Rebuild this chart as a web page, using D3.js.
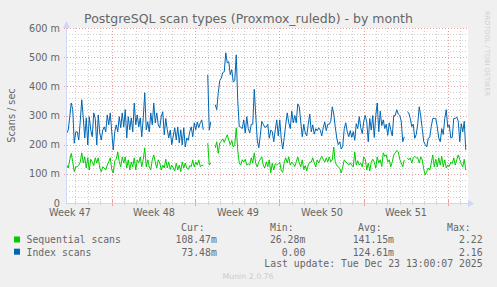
<!DOCTYPE html>
<html>
<head>
<meta charset="utf-8">
<script src="https://cdn.jsdelivr.net/npm/d3@7"></script>
<style>
    body { margin: 0; background: #f0f0f0; }
    svg { display: block; font-family: "DejaVu Sans", sans-serif; }
    .mono { font-family: "DejaVu Sans Mono", monospace; white-space: pre; }
</style>
</head>
<body>
<svg id="chart" width="497" height="287"></svg>
<script>
// munin "by month" view, one sample every 3 hours (values in milli-scans/sec)
var startTime = new Date(2025, 10, 20, 5, 0, 0);
var endTime = new Date(2025, 11, 23, 13, 0, 0);
var stepHours = 3;

var seqScans = [
    130, 120, 148, 170, 141, 107, 124, 124, 130, 140,
    172, 137, 158, 120, 155, 113, 150, 140, 128, 155,
    137, 155, 120, 107, 124, 120, 113, 130, 141, 155,
    115, 103, 145, 150, 175, 141, 124, 158, 137, 158,
    120, 148, 113, 141, 124, 155, 113, 148, 137, 158,
    124, 150, 189, 124, 148, 124, 113, 148, 165, 141,
    120, 148, 137, 113, 130, 120, 150,
    120, 141, 115, 130, 120, 110, 137, 113, 130, 107,
    141, 120, 137, 120, 115, 128, 125, 148, 124, 141,
    130, 148, 125, 130, 128, null, null, 205, 130, 137,
    null, null, 189, 210, 170, 206, 212, 220, 208, 222,
    234, 216, 200, 214, 192, 200, 258, 180, 137, 130,
    148, 140, 150, 130, 135, 130, 155, 137, 172, 135,
    124, 141, 150, 158, 130, 120,
    141, 125, 148, 103, 137, 113, 135, 130, 135, 140,
    110, 105, 141, 155, 137, 158, 130, 140, 135, 125,
    141, 158, 137, 124, 148, 115, 128, 110, 130, 140,
    140, 155, 137, 124, 148, 137, 150, 160, 150, 140,
    155, 141, 158, 141, 148, 192, 140, 128, 125, 118,
    103, 124, 148, 141, 137, 130, 138, 130, 124, 175,
    130, 145, 130, 137, 124, 158, 150,
    113, 137, 110, 140, 150, 140, 120, 158, 137, 148,
    125, 172, 160, 165, 141, 148, 124, 141, 165, 172,
    180, 175, 150, 137, 124, 148, null, 155, 148, 155,
    137, 155, 160, 155, 155, 137, 158, 148, 115, 96,
    108, 120, 113, 137, 165, 124, 150, 124, 155, 130,
    160, 124, 148, 120, 130, 125, 140, 135, 155, 130,
    148, 165, 148, 135, 124, 150, 113
];

var idxScans = [
    240, 250, 296, 343, 320, 205, 244, 244, 216, 280,
    354, 292, 223, 292, 199, 296, 250, 227, 309, 290,
    199, 302, 240, 216, 250, 261, 244, 302, 268, 309,
    244, 182, 244, 268, 244, 296, 258, 309, 261, 320,
    223, 296, 251, 292, 244, 343, 268, 302, 261, 292,
    227, 292, 378, 251, 278, 244, 309, 268, 343, 275,
    309, 268, 258, 296, 313, 234, 290,
    251, 223, 250, 200, 230, 258, 216, 261, 206, 251,
    199, 258, 192, 223, 215, 245, 261, 227, 275, 251,
    278, 258, 275, 285, 251, null, null, 440, 250, 278,
    null, null, 337, 320, 378, 420, 428, 447, 450, 515,
    480, 485, 440, 457, 415, 420, 508, 350, 262, 260,
    255, 285, 240, 296, 255, 240, 270, 270, 390, 300,
    216, 189, 230, 280, 270, 260,
    260, 270, 222, 250, 245, 210, 251, 285, 230, 285,
    220, 185, 225, 270, 309, 275, 255, 315, 275, 300,
    275, 340, 330, 278, 227, 270, 240, 230, 270, 305,
    244, 268, 236, 255, 248, 258, 250, 230, 258, 278,
    248, 270, 270, 280, 330, 305, 261, 223, 200, 210,
    185, 195, 255, 275, 244, 227, 248, 225, 245, 215,
    272, 255, 296, 258, 238, 280, 300,
    278, 210, 290, 250, 300, 225, 300, 343, 244, 315,
    265, 285, 255, 270, 232, 275, 251, 230, 300, 300,
    320, 305, 300, 280, 210, 227, null, 313, 309, 290,
    262, 270, 222, 235, 272, 330, 296, 255, 210, 200,
    192, 222, 225, 262, 290, 290, 290, 261, 223, 210,
    255, 235, 290, 320, 260, 268, 223, 225, 290, 290,
    295, 280, 210, 272, 244, 280, 182
];

var yTicks = [0, 100, 200, 300, 400, 500, 600];
var seriesNames = ["Sequential scans", "Index scans"];
var seriesColors = ["#00cc00", "#0066b3"];
var curVals = ["108.47m", "73.48m"];
var minVals = ["26.28m", "0.00 "];
var avgVals = ["141.15m", "124.61m"];
var maxVals = ["2.22 ", "2.16 "];

var svg = d3.select("#chart");
var textColor = "#666666", axisColor = "#cfd6f8";
var gridColor = "#cfcfcf", mgridColor = "#e6a0a0";

var x = d3.scaleTime().domain([startTime, endTime]).range([66, 466]);
var y = d3.scaleLinear().domain([0, 600]).range([203, 28]);

function toPoints(values) {
    return values.map(function (v, i) {
        return {t: new Date(+startTime + (1.5 + i * stepHours) * 3600e3), v: v};
    });
}

// canvas
svg.append("rect")
    .attr("x", 66).attr("y", 28)
    .attr("width", 402).attr("height", 175)
    .attr("fill", "#ffffff");

var grid = svg.append("g");

// minor horizontal grid every 20 m
grid.selectAll(".hmin")
    .data(d3.range(20, 600, 20).filter(function (d) { return d % 100 !== 0; }))
    .enter().append("line")
    .attr("x1", 66).attr("x2", 468)
    .attr("y1", function (d) { return Math.round(y(d)) + 0.5; })
    .attr("y2", function (d) { return Math.round(y(d)) + 0.5; })
    .attr("stroke", gridColor).attr("stroke-dasharray", "1,2");

// minor vertical grid every day
var days = d3.timeDay.range(startTime, endTime).filter(function (d) { return d.getDay() !== 1; });
grid.selectAll(".vmin")
    .data(days)
    .enter().append("line")
    .attr("x1", function (d) { return Math.round(x(d)) + 0.5; })
    .attr("x2", function (d) { return Math.round(x(d)) + 0.5; })
    .attr("y1", 28).attr("y2", 203)
    .attr("stroke", gridColor).attr("stroke-dasharray", "1,2");
grid.selectAll(".vtick")
    .data(days)
    .enter().append("line")
    .attr("x1", function (d) { return Math.round(x(d)) + 0.5; })
    .attr("x2", function (d) { return Math.round(x(d)) + 0.5; })
    .attr("y1", 201).attr("y2", 205)
    .attr("stroke", gridColor);

// major grid
grid.selectAll(".hmaj")
    .data(yTicks.slice(1))
    .enter().append("line")
    .attr("x1", 64).attr("x2", 468)
    .attr("y1", function (d) { return Math.round(y(d)) + 0.5; })
    .attr("y2", function (d) { return Math.round(y(d)) + 0.5; })
    .attr("stroke", mgridColor).attr("stroke-dasharray", "1,2");

var mondays = d3.timeMonday.range(startTime, endTime);
grid.selectAll(".vmaj")
    .data(mondays)
    .enter().append("line")
    .attr("x1", function (d) { return Math.round(x(d)) + 0.5; })
    .attr("x2", function (d) { return Math.round(x(d)) + 0.5; })
    .attr("y1", 28).attr("y2", 203)
    .attr("stroke", mgridColor).attr("stroke-dasharray", "1,2");
grid.selectAll(".vmtick")
    .data(mondays)
    .enter().append("line")
    .attr("x1", function (d) { return Math.round(x(d)) + 0.5; })
    .attr("x2", function (d) { return Math.round(x(d)) + 0.5; })
    .attr("y1", 200).attr("y2", 206)
    .attr("stroke", mgridColor);

// series
svg.append("clipPath").attr("id", "plotclip")
    .append("rect").attr("x", 66).attr("y", 20).attr("width", 402).attr("height", 184);

var line = d3.line()
    .defined(function (d) { return d.v !== null; })
    .x(function (d) { return x(d.t); })
    .y(function (d) { return y(d.v); });

[seqScans, idxScans].forEach(function (vals, i) {
    svg.append("path")
        .datum(toPoints(vals))
        .attr("clip-path", "url(#plotclip)")
        .attr("fill", "none")
        .attr("stroke", seriesColors[i])
        .attr("stroke-width", 1)
        .attr("d", line);
});

// axes lines and arrows
svg.append("line").attr("x1", 66.5).attr("x2", 66.5).attr("y1", 203).attr("y2", 24)
    .attr("stroke", axisColor);
svg.append("line").attr("x1", 66).attr("x2", 470).attr("y1", 203.5).attr("y2", 203.5)
    .attr("stroke", axisColor);
svg.append("path").attr("d", "M63,28 L70,28 L66.5,21 Z").attr("fill", axisColor);
svg.append("path").attr("d", "M468,200 L468,207 L474,203.5 Z").attr("fill", axisColor);

// y axis labels
var yAxis = svg.append("g")
    .attr("transform", "translate(66,0)")
    .call(d3.axisLeft(y).tickValues(yTicks).tickSize(0).tickPadding(6)
        .tickFormat(function (d) { return d === 0 ? "0" : d + " m"; }));
yAxis.select(".domain").remove();
yAxis.selectAll("text")
    .attr("fill", textColor)
    .attr("font-family", "DejaVu Sans, sans-serif")
    .attr("font-size", 9.7);

// x axis labels: week names centred in each week
var weekMids = d3.timeMonday.range(d3.timeMonday.offset(startTime, -1), endTime)
    .map(function (d) { return new Date(+d + 3.5 * 864e5); })
    .filter(function (d) { return d >= startTime && d <= endTime; });
var xAxis = svg.append("g")
    .attr("transform", "translate(0,203)")
    .call(d3.axisBottom(x).tickValues(weekMids).tickSize(0).tickPadding(6.5)
        .tickFormat(d3.timeFormat("Week %V")));
xAxis.select(".domain").remove();
xAxis.selectAll("text")
    .attr("fill", textColor)
    .attr("font-family", "DejaVu Sans, sans-serif")
    .attr("font-size", 9.7);

// title and side texts
svg.append("text")
    .attr("x", 248.5).attr("y", 23)
    .attr("text-anchor", "middle")
    .attr("font-size", 12.5)
    .attr("fill", textColor)
    .text("PostgreSQL scan types (Proxmox_ruledb) - by month");

svg.append("text")
    .attr("transform", "translate(15,115.5)rotate(-90)")
    .attr("text-anchor", "middle")
    .attr("font-size", 9.7)
    .attr("fill", textColor)
    .text("Scans / sec");

svg.append("text")
    .attr("transform", "translate(485,53.5)rotate(90)")
    .attr("text-anchor", "middle")
    .attr("font-size", 6.6)
    .attr("fill", "#cfcfcf")
    .text("RRDTOOL / TOBI OETIKER");

// legend
var legend = svg.append("g").attr("class", "mono").attr("font-size", 9.8).attr("fill", textColor);
var headers = [["Cur:", 181], ["Min:", 270], ["Avg:", 358], ["Max:", 447]];
headers.forEach(function (h) {
    legend.append("text").attr("x", h[1]).attr("y", 230.5).text(h[0]);
});
seriesNames.forEach(function (name, i) {
    var by = 243.3 + i * 12.2;
    svg.append("rect")
        .attr("x", 14).attr("y", by - 6.8)
        .attr("width", 6).attr("height", 6)
        .attr("fill", seriesColors[i]);
    legend.append("text").attr("x", 26.5).attr("y", by).text(name);
    [[curVals, 216.8], [minVals, 305.3], [avgVals, 394], [maxVals, 482.6]].forEach(function (c) {
        legend.append("text")
            .attr("x", c[1]).attr("y", by)
            .attr("text-anchor", "end")
            .text(c[0][i]);
    });
});
legend.append("text")
    .attr("x", 482.6).attr("y", 267)
    .attr("text-anchor", "end")
    .text("Last update: Tue Dec 23 13:00:07 2025");

svg.append("text")
    .attr("x", 248).attr("y", 279)
    .attr("text-anchor", "middle")
    .attr("font-size", 7.8)
    .attr("fill", "#cccccc")
    .text("Munin 2.0.76");
</script>
</body>
</html>
